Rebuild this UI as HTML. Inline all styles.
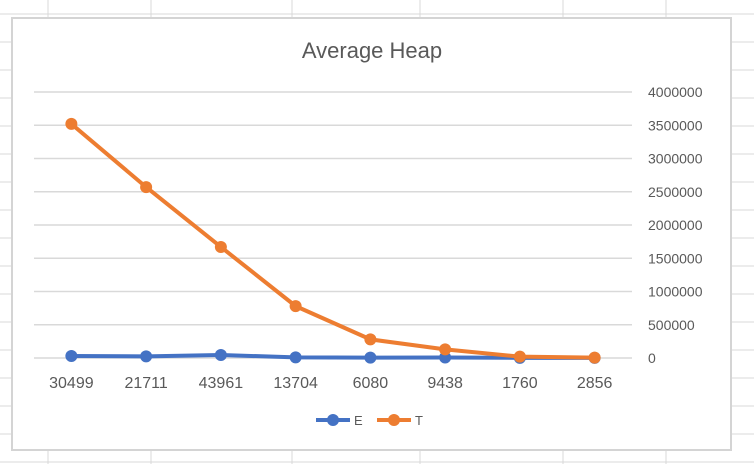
<!DOCTYPE html>
<html><head><meta charset="utf-8"><style>
body{margin:0;width:754px;height:464px;overflow:hidden;background:#fff;font-family:"Liberation Sans",sans-serif}
svg{display:block}
</style></head><body>
<svg width="754" height="464" id="s" xmlns="http://www.w3.org/2000/svg">
<g id="sheet"></g>
<rect x="12" y="18" width="719" height="432" fill="#fff" stroke="#d4d4d4" stroke-width="2"/>
<text x="372" y="58" text-anchor="middle" font-size="22" fill="#595959">Average Heap</text>
<g id="grid"></g><g id="xl"></g><g id="yl"></g><g id="series"></g>
<g>
<g><line x1="316" y1="420" x2="350" y2="420" stroke="#4472c4" stroke-width="4"/><circle cx="333" cy="420" r="6" fill="#4472c4"/><text x="354" y="425" font-size="13" fill="#595959">E</text></g>
<g><line x1="377" y1="420" x2="411" y2="420" stroke="#ed7d31" stroke-width="4"/><circle cx="394" cy="420" r="6" fill="#ed7d31"/><text x="415" y="425" font-size="13" fill="#595959">T</text></g>
</g>
</svg>
<script>
const categories=["30499","21711","43961","13704","6080","9438","1760","2856"];
const seriesE=[30000,25000,45000,10000,5000,8000,2000,2000];
const seriesT=[3520000,2570000,1670000,780000,280000,130000,20000,5000];
const yTicks=[0,500000,1000000,1500000,2000000,2500000,3000000,3500000,4000000];
const NS="http://www.w3.org/2000/svg";
const L=34,R=632,Y0=358,Y1=92,YMAX=4000000;
const x=i=>L+(R-L)/categories.length*(i+0.5);
const y=v=>Y0-(Y0-Y1)*v/YMAX;
function mk(p,t,a){const e=document.createElementNS(NS,t);for(const k in a)e.setAttribute(k,a[k]);document.getElementById(p).appendChild(e);return e;}
// sheet grid
for(const gx of [48,151,292,420,563,666]){const e=mk("sheet","line",{x1:gx,y1:0,x2:gx,y2:464,stroke:"#d9d9d9"});

}
for(let gy=14;gy<464;gy+=28){const e=mk("sheet","line",{x1:0,y1:gy,x2:754,y2:gy,stroke:"#d9d9d9"});

}
yTicks.forEach(v=>{const g=mk("grid","line",{x1:L,y1:y(v),x2:R,y2:y(v),stroke:"#d9d9d9","stroke-width":1.5});


const t=mk("yl","text",{x:648,y:y(v)+5,"font-size":14,fill:"#595959"});t.textContent=v;

});
categories.forEach((c,i)=>{const t=mk("xl","text",{x:x(i),y:388,"font-size":16,fill:"#595959","text-anchor":"middle"});t.textContent=c;

});
function draw(data,col,name){const pl=mk("series","polyline",{points:data.map((v,i)=>x(i)+","+y(v)).join(" "),fill:"none",stroke:col,"stroke-width":4,"stroke-linejoin":"round"});


data.forEach((v,i)=>{const c=mk("series","circle",{cx:x(i),cy:y(v),r:6,fill:col});

});}
draw(seriesE,"#4472c4","series-e");
draw(seriesT,"#ed7d31","series-t");
</script>
</body></html>
